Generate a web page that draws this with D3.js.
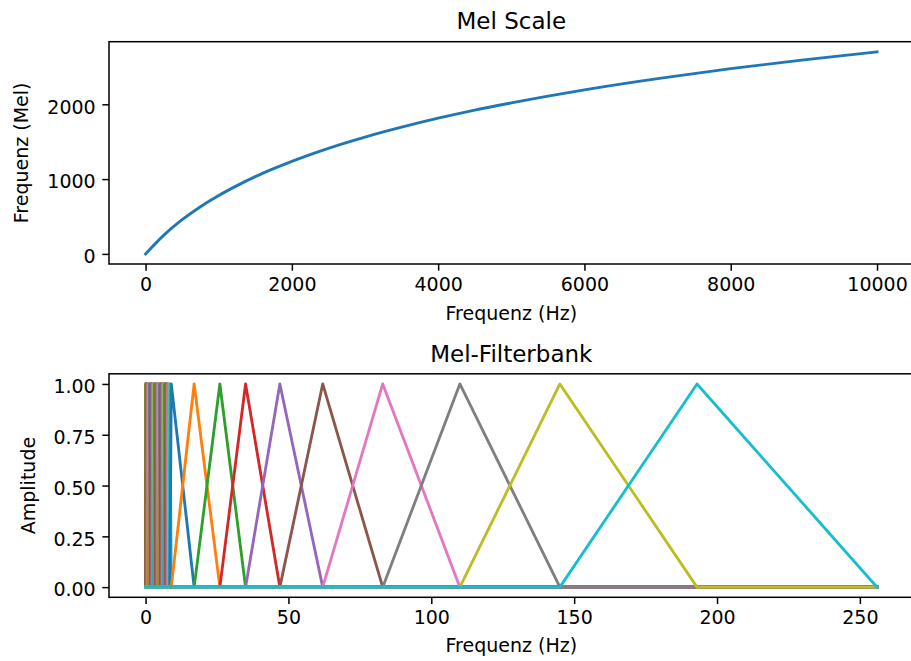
<!DOCTYPE html>
<html>
<head>
<meta charset="utf-8">
<script src="https://cdn.jsdelivr.net/npm/d3@7"></script>
<style>
  body { margin: 0; background: #fff; }
  svg { display: block; }
  text { font-family: "DejaVu Sans", sans-serif; fill: #000; }
</style>
</head>
<body>
<svg id="chart" width="911" height="661"></svg>
<script>
// Mel scale curve: frequency in Hz and corresponding mel value
const melHz     = [0, 250, 500, 750, 1000, 1250, 1500, 1750, 2000, 2500, 3000, 3500, 4000, 4500, 5000, 6000, 7000, 8000, 9000, 10000];
const melValues = [0, 251, 457, 631, 781, 913, 1033, 1140, 1238, 1412, 1562, 1694, 1814, 1923, 2019, 2193, 2343, 2476, 2595, 2702];

// Filterbank edge points (FFT bin positions); filter i spans edges[i] .. edges[i+1] (peak) .. edges[i+2]
const filterEdges = [
  0, 0, 0, 0.1, 0.25, 0.4, 0.55, 0.75, 0.9, 1.05, 1.25, 1.4, 1.6, 1.75, 1.95, 2.1, 2.3,
  2.45, 2.65, 2.8, 3.0, 3.15, 3.35, 3.5, 3.7, 3.85, 4.05, 4.2, 4.4, 4.55, 4.75, 4.9,
  5.1, 5.25, 5.45, 5.6, 5.8, 5.95, 6.15, 6.3, 6.5, 6.65, 6.85, 7.0, 7.2, 7.35, 7.55,
  7.75, 7.95, 8.2, 8.5,
  9, 17, 26, 35, 47, 62, 83, 110, 145, 193, 256
];
const binCount = 256;

// Tick values
const melXTicks  = [0, 2000, 4000, 6000, 8000, 10000];
const melYTicks  = [0, 1000, 2000];
const bankXTicks = [0, 50, 100, 150, 200, 250];
const bankYTicks = [0, 0.25, 0.5, 0.75, 1.0];

const palette = d3.schemeCategory10;
const svg = d3.select("#chart");

const FS = 19, TITLE_FS = 23;
const TICK = 6.65, PAD = 6.65, SPINE = 1.5, LW = 2.85;

function padDomain(lo, hi) {
  const m = (hi - lo) * 0.05;
  return [lo - m, hi + m];
}

function drawAxes(g, box, x, y, xTicks, yTicks, yFmt, clipId) {
  // clip region for the data
  svg.append("defs").append("clipPath").attr("id", clipId)
    .append("rect").attr("x", box.left).attr("y", box.top)
    .attr("width", box.right - box.left).attr("height", box.bottom - box.top);

  const xAxis = d3.axisBottom(x).tickValues(xTicks).tickSize(TICK).tickPadding(PAD).tickFormat(d3.format("d"));
  const gx = g.append("g").attr("transform", `translate(0,${box.bottom})`).call(xAxis);
  gx.select(".domain").remove();
  gx.selectAll(".tick line").attr("stroke", "#000").attr("stroke-width", SPINE);
  gx.selectAll(".tick text").attr("font-size", FS).attr("font-family", "DejaVu Sans").attr("fill", "#000");

  const yAxis = d3.axisLeft(y).tickValues(yTicks).tickSize(TICK).tickPadding(PAD).tickFormat(yFmt);
  const gy = g.append("g").attr("transform", `translate(${box.left},0)`).call(yAxis);
  gy.select(".domain").remove();
  gy.selectAll(".tick line").attr("stroke", "#000").attr("stroke-width", SPINE);
  gy.selectAll(".tick text").attr("font-size", FS).attr("font-family", "DejaVu Sans").attr("fill", "#000").attr("dy", "0.46em");
}

function drawFrame(g, box) {
  g.append("rect")
    .attr("x", box.left).attr("y", box.top)
    .attr("width", box.right - box.left).attr("height", box.bottom - box.top)
    .attr("fill", "none").attr("stroke", "#000").attr("stroke-width", SPINE);
}

function labels(g, box, title, titleY, xLabel, xLabelY, yLabel, yLabelX) {
  const cx = (box.left + box.right) / 2;
  g.append("text").attr("x", cx).attr("y", titleY).attr("text-anchor", "middle")
    .attr("font-size", TITLE_FS).text(title);
  g.append("text").attr("x", cx).attr("y", xLabelY).attr("text-anchor", "middle")
    .attr("font-size", FS).text(xLabel);
  const cy = (box.top + box.bottom) / 2;
  g.append("text").attr("transform", `translate(${yLabelX},${cy}) rotate(-90)`)
    .attr("text-anchor", "middle").attr("font-size", FS).text(yLabel);
}

// ---------- Top panel: Mel Scale ----------
{
  const box = { left: 109, right: 913.6, top: 41.7, bottom: 264 };
  const x = d3.scaleLinear().domain(padDomain(d3.min(melHz), d3.max(melHz))).range([box.left, box.right]);
  const y = d3.scaleLinear().domain(padDomain(d3.min(melValues), d3.max(melValues))).range([box.bottom, box.top]);
  const g = svg.append("g");

  drawAxes(g, box, x, y, melXTicks, melYTicks, d3.format("d"), "clipTop");

  const line = d3.line()
    .x((d, i) => x(melHz[i]))
    .y(d => y(d))
    .curve(d3.curveMonotoneX);
  g.append("path")
    .attr("clip-path", "url(#clipTop)")
    .attr("d", line(melValues))
    .attr("fill", "none").attr("stroke", palette[0]).attr("stroke-width", LW)
    .attr("stroke-linejoin", "round").attr("stroke-linecap", "square");

  drawFrame(g, box);
  labels(g, box, "Mel Scale", 29.3, "Frequenz (Hz)", 320, "Frequenz (Mel)", 27.5);
}

// ---------- Bottom panel: Mel-Filterbank ----------
{
  const box = { left: 109, right: 913.6, top: 373.8, bottom: 597.3 };
  const x = d3.scaleLinear().domain(padDomain(0, binCount)).range([box.left, box.right]);
  const y = d3.scaleLinear().domain(padDomain(0, 1)).range([box.bottom, box.top]);
  const g = svg.append("g");

  drawAxes(g, box, x, y, bankXTicks, bankYTicks, d3.format(".2f"), "clipBottom");

  const nFilters = filterEdges.length - 2;
  const filters = d3.range(nFilters).map(i => {
    const l = filterEdges[i], c = filterEdges[i + 1], r = filterEdges[i + 2];
    return [[0, 0], [l, 0], [c, 1], [r, 0], [binCount, 0]];
  });

  const line = d3.line().x(d => x(d[0])).y(d => y(d[1]));
  g.append("g").attr("clip-path", "url(#clipBottom)")
    .selectAll("path").data(filters).join("path")
    .attr("d", line)
    .attr("fill", "none")
    .attr("stroke", (d, i) => palette[i % 10])
    .attr("stroke-width", LW)
    .attr("stroke-linejoin", "round").attr("stroke-linecap", "square");

  drawFrame(g, box);
  labels(g, box, "Mel-Filterbank", 361.7, "Frequenz (Hz)", 652.2, "Amplitude", 35);
}
</script>
</body>
</html>
